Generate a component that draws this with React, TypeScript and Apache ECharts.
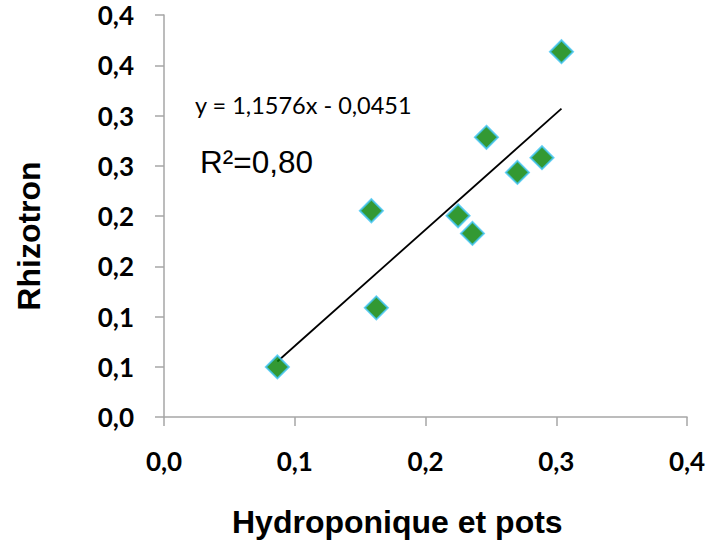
import React, { useEffect, useRef } from "react";
import * as echarts from "echarts";

const xValues = [0.0867, 0.1586, 0.1624, 0.2249, 0.2359, 0.2466, 0.2703, 0.2891, 0.304];
const yValues = [0.0498, 0.2052, 0.1086, 0.2002, 0.1827, 0.2783, 0.2434, 0.258, 0.3635];
const slope = 1.1576;
const intercept = -0.0451;
const equationText = "y = 1,1576x - 0,0451";
const r2Text = "R²=0,80";
const xTitle = "Hydroponique et pots";
const yTitle = "Rhizotron";

const fmt = (v: number) => (Math.round(v * 10 + 1e-6) / 10).toFixed(1).replace(".", ",");

export default function App() {
  const ref = useRef<HTMLDivElement>(null);
  useEffect(() => {
    document.body.style.margin = "0";
    if (!ref.current) return;
    const chart = echarts.init(ref.current, null, { renderer: "svg" });
    const points = xValues.map((x, i) => [x, yValues[i]]);
    const xMin = Math.min(...xValues);
    const xMax = Math.max(...xValues);
    const trend = [
      [xMin, slope * xMin + intercept],
      [xMax, slope * xMax + intercept],
    ];
    const axisColor = "#a6a6a6";
    chart.setOption({
      animation: false,
      backgroundColor: "#ffffff",
      grid: { left: 164, right: 25, top: 15, bottom: 126, containLabel: false },
      xAxis: {
        type: "value",
        min: 0,
        max: 0.4,
        interval: 0.1,
        axisLine: { show: true, lineStyle: { color: axisColor, width: 1.5 } },
        axisTick: { show: true, inside: false, length: 9, lineStyle: { color: axisColor, width: 1.5 } },
        splitLine: { show: false },
        axisLabel: {
          margin: 31,
          color: "#000",
          fontFamily: "Lato",
          fontWeight: "bold",
          fontSize: 26,
          formatter: fmt,
        },
      },
      yAxis: {
        type: "value",
        min: 0,
        max: 0.4,
        interval: 0.05,
        axisLine: { show: true, lineStyle: { color: axisColor, width: 1.5 } },
        axisTick: { show: true, inside: false, length: 9, lineStyle: { color: axisColor, width: 1.5 } },
        splitLine: { show: false },
        axisLabel: {
          margin: 30,
          color: "#000",
          fontFamily: "Lato",
          fontWeight: "bold",
          fontSize: 26,
          formatter: fmt,
        },
      },
      graphic: [
        {
          type: "text",
          x: 195,
          y: 105,
          style: {
            text: equationText,
            font: "23.5px Lato",
            fill: "#000",
            textAlign: "left",
            textVerticalAlign: "middle",
          },
        },
        {
          type: "text",
          x: 200,
          y: 162,
          style: {
            text: r2Text,
            font: "31.5px 'Liberation Sans'",
            fill: "#000",
            textAlign: "left",
            textVerticalAlign: "middle",
          },
        },
        {
          type: "text",
          x: 232,
          y: 522,
          style: {
            text: xTitle,
            font: "bold 32px 'Liberation Sans'",
            fill: "#000",
            textAlign: "left",
            textVerticalAlign: "middle",
          },
        },
        {
          type: "text",
          x: 29,
          y: 236,
          rotation: Math.PI / 2,
          style: {
            text: yTitle,
            font: "bold 32px 'Liberation Sans'",
            fill: "#000",
            textAlign: "center",
            textVerticalAlign: "middle",
          },
        },
      ],
      series: [
        {
          type: "line",
          data: trend,
          showSymbol: false,
          symbol: "none",
          lineStyle: { color: "#000", width: 1.8 },
          silent: true,
          z: 2,
        },
        {
          type: "scatter",
          data: points,
          symbol: "diamond",
          symbolSize: 23,
          itemStyle: { color: "#008000", borderColor: "#40c4f4", borderWidth: 2 },
          z: 3,
        },
      ],
    });
    return () => chart.dispose();
  }, []);
  return <div ref={ref} style={{ width: 712, height: 543 }} />;
}
